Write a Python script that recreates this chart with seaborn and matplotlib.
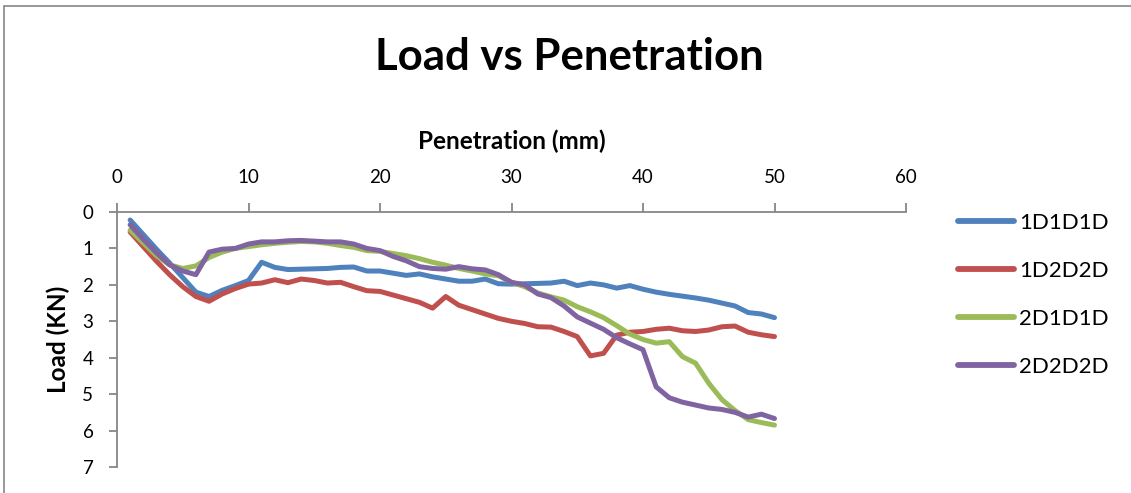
import numpy as np
import pandas as pd
import matplotlib
matplotlib.use("Agg")
import matplotlib.pyplot as plt
from matplotlib.patches import Rectangle
import seaborn as sns

# Penetration (mm) readings, 1..50
PENETRATION = list(range(1, 51))

LOAD_1D1D1D = [0.22, 0.62, 1.02, 1.40, 1.80, 2.20, 2.32, 2.15, 2.02, 1.88,
               1.38, 1.52, 1.58, 1.57, 1.56, 1.55, 1.52, 1.51, 1.62, 1.62,
               1.68, 1.74, 1.70, 1.78, 1.84, 1.90, 1.90, 1.84, 1.97, 1.98,
               1.97, 1.96, 1.95, 1.90, 2.02, 1.95, 2.00, 2.09, 2.02, 2.12,
               2.20, 2.26, 2.31, 2.36, 2.42, 2.50, 2.58, 2.76, 2.80, 2.90]
LOAD_1D2D2D = [0.55, 0.95, 1.35, 1.72, 2.05, 2.32, 2.45, 2.25, 2.10, 1.98,
               1.95, 1.86, 1.94, 1.84, 1.88, 1.95, 1.93, 2.05, 2.16, 2.18,
               2.28, 2.38, 2.48, 2.64, 2.32, 2.56, 2.68, 2.80, 2.92, 3.00,
               3.06, 3.15, 3.16, 3.28, 3.42, 3.95, 3.88, 3.38, 3.30, 3.28,
               3.22, 3.19, 3.26, 3.28, 3.24, 3.15, 3.13, 3.30, 3.37, 3.42]
LOAD_2D1D1D = [0.50, 0.85, 1.20, 1.45, 1.55, 1.48, 1.25, 1.10, 1.00, 0.95,
               0.90, 0.86, 0.83, 0.81, 0.82, 0.86, 0.92, 0.97, 1.06, 1.08,
               1.14, 1.20, 1.28, 1.38, 1.46, 1.55, 1.62, 1.70, 1.75, 1.93,
               2.05, 2.22, 2.33, 2.42, 2.60, 2.74, 2.90, 3.12, 3.35, 3.50,
               3.60, 3.56, 3.97, 4.15, 4.70, 5.15, 5.45, 5.70, 5.78, 5.85]
LOAD_2D2D2D = [0.35, 0.75, 1.12, 1.45, 1.62, 1.72, 1.10, 1.02, 1.00, 0.88,
               0.82, 0.82, 0.79, 0.78, 0.80, 0.82, 0.82, 0.88, 1.00, 1.06,
               1.22, 1.34, 1.50, 1.55, 1.57, 1.50, 1.56, 1.59, 1.72, 1.93,
               2.00, 2.25, 2.35, 2.58, 2.88, 3.05, 3.22, 3.45, 3.62, 3.78,
               4.80, 5.10, 5.22, 5.30, 5.38, 5.42, 5.50, 5.63, 5.55, 5.67]

SERIES = ["1D1D1D", "1D2D2D", "2D1D1D", "2D2D2D"]
COLORS = ["#4F81BD", "#C0504D", "#9BBB59", "#8064A2"]

df = pd.concat([
    pd.DataFrame({"Penetration": PENETRATION, "Load": vals, "Series": name})
    for name, vals in zip(SERIES, [LOAD_1D1D1D, LOAD_1D2D2D, LOAD_2D1D1D, LOAD_2D2D2D])
])

sns.set_style("white")
plt.rcParams["font.family"] = ["Lato", "DejaVu Sans"]
plt.rcParams["text.color"] = "black"
plt.rcParams["axes.labelcolor"] = "black"
plt.rcParams["xtick.color"] = "black"
plt.rcParams["ytick.color"] = "black"

fig = plt.figure(figsize=(11.31, 4.93), dpi=100)
ax = fig.add_axes([117 / 1131, 26 / 493, 789 / 1131, 255 / 493])

sns.lineplot(data=df, x="Penetration", y="Load", hue="Series",
             palette=COLORS, linewidth=3.6, ax=ax, legend=True,
             solid_capstyle="round", solid_joinstyle="round")

ax.set_xlim(0, 60)
ax.set_ylim(7, 0)
ax.set_xticks(range(0, 61, 10))
ax.set_yticks(range(0, 8))
ax.xaxis.tick_top()
ax.xaxis.set_label_position("top")

GREY = "#868686"
for side in ["right", "bottom"]:
    ax.spines[side].set_visible(False)
for side in ["left", "top"]:
    ax.spines[side].set_color(GREY)
    ax.spines[side].set_linewidth(1.3)
ax.tick_params(axis="x", direction="out", length=6.5, width=1.3,
               color=GREY, labelcolor="black", pad=12, labelsize=13.5,
               top=True, bottom=False)
ax.tick_params(axis="y", direction="out", length=6, width=1.3,
               color=GREY, labelcolor="black", pad=11, labelsize=13.5, left=True)

ax.set_xlabel("Penetration (mm)", fontsize=17.5, fontweight="bold")
ax.xaxis.set_label_coords(0.5, (467 - 149) / 255)
ax.set_ylabel("Load (KN)", fontsize=17.5, fontweight="bold")
ax.yaxis.set_label_coords((70 - 117) / 789, 0.5)

fig.text(0.503, 1 - 70 / 493, "Load vs Penetration", ha="center",
         va="baseline", fontsize=31.5, fontweight="bold")

handles, labels = ax.get_legend_handles_labels()
leg = ax.legend(handles, labels, loc="upper left",
                bbox_to_anchor=(958 / 1131, 1 - 213 / 493),
                bbox_transform=fig.transFigure, frameon=False, fontsize=16,
                handlelength=2.5, handletextpad=0.25, labelspacing=1.26,
                borderpad=0, borderaxespad=0)
for line in leg.get_lines():
    line.set_linewidth(4.2)

# chart area border (cropped at the right and bottom)
fig.patches.append(Rectangle((4 / 1131, -0.2), 1.5, 1.2 - 6 / 493,
                             transform=fig.transFigure, fill=False,
                             edgecolor=GREY, linewidth=1.2))

fig.savefig("out.png", dpi=100)
